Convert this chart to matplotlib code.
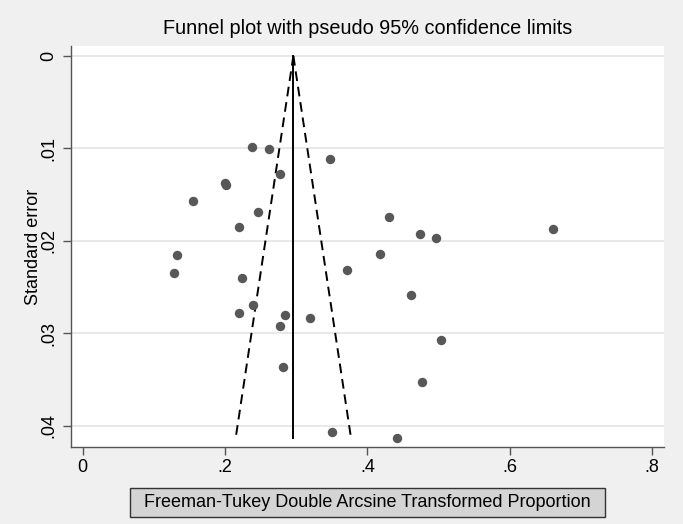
import matplotlib.pyplot as plt
from matplotlib.patches import Rectangle

plt.rcParams['font.family'] = ['Liberation Sans', 'DejaVu Sans']

# effect size (Freeman-Tukey transformed proportion) and standard error of each study
es = [0.238, 0.262, 0.348, 0.277, 0.2007, 0.2014, 0.155, 0.247, 0.220, 0.431,
      0.474, 0.496, 0.661, 0.133, 0.418, 0.128, 0.224, 0.371, 0.461, 0.239,
      0.219, 0.284, 0.319, 0.277, 0.503, 0.282, 0.476, 0.350, 0.442]
se = [0.00985, 0.0101, 0.0111, 0.0128, 0.0137, 0.0140, 0.0157, 0.01685, 0.01847, 0.0174,
      0.0193, 0.0197, 0.0187, 0.02153, 0.02145, 0.02344, 0.0240, 0.02315, 0.0259, 0.0269,
      0.0278, 0.0280, 0.0283, 0.0292, 0.0307, 0.0336, 0.0353, 0.0407, 0.0413]
pooled = 0.296

xticks = [0, 0.2, 0.4, 0.6, 0.8]
xticklabels = ['0', '.2', '.4', '.6', '.8']
yticks = [0, 0.01, 0.02, 0.03, 0.04]
yticklabels = ['0', '.01', '.02', '.03', '.04']

fig = plt.figure(figsize=(6.83, 5.24), dpi=100)
fig.patch.set_facecolor('#f0f0f0')
ax = fig.add_axes([71 / 683, 1 - 447 / 524, 593 / 683, 401 / 524])
ax.set_facecolor('white')

for s in ['top', 'right']:
    ax.spines[s].set_visible(False)
for s in ['left', 'bottom']:
    ax.spines[s].set_color('#555555')
    ax.spines[s].set_linewidth(1.0)

# funnel lines
se_max = max(se)
ax.plot([pooled, pooled], [0, se_max], color='black', lw=1.4, zorder=2)
ax.plot([pooled, pooled - 1.96 * se_max], [0, se_max], color='black', lw=1.4,
        ls=(0, (5, 3)), zorder=2)
ax.plot([pooled, pooled + 1.96 * se_max], [0, se_max], color='black', lw=1.4,
        ls=(0, (5, 3)), zorder=2)

ax.plot(es, se, 'o', color='#585858', markersize=6.8, markeredgewidth=0, zorder=3)

ax.set_xlim(-0.0163, 0.8166)
ax.set_ylim(0.0423, -0.00108)
ax.set_xticks(xticks)
ax.set_xticklabels(xticklabels)
ax.set_yticks(yticks)
ax.set_yticklabels(yticklabels, rotation=90, va='center')
ax.tick_params(axis='both', labelsize=13, color='#555555', length=6, width=1.0)
ax.tick_params(axis='y', pad=4)
ax.tick_params(axis='x', pad=3)
ax.grid(axis='y', color='#e4e4e4', lw=1.2)
ax.set_axisbelow(True)

ax.set_ylabel('Standard error', fontsize=13, labelpad=-1)
fig.text(367.5 / 683, 1 - 28 / 524, 'Funnel plot with pseudo 95% confidence limits',
         ha='center', va='center', fontsize=14.3)

# x title in a grey box, as Stata draws it
fig.patches.append(Rectangle((129.5 / 683, 1 - 517 / 524), 475.5 / 683, 29 / 524,
                             transform=fig.transFigure, facecolor='#d4d4d4',
                             edgecolor='#333333', lw=1.0))
fig.text(367 / 683, 1 - 502.5 / 524, 'Freeman-Tukey Double Arcsine Transformed Proportion',
         ha='center', va='center', fontsize=13)

fig.savefig('out.png', dpi=100, facecolor=fig.get_facecolor())
